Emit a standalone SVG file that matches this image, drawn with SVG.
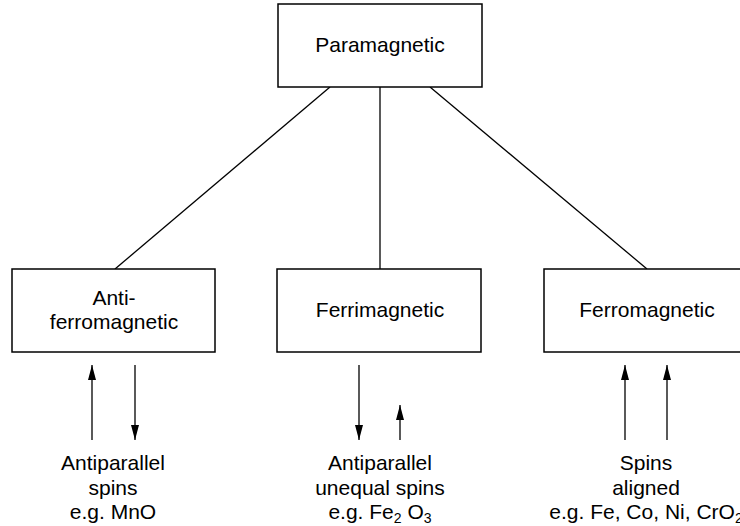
<svg xmlns="http://www.w3.org/2000/svg" width="740" height="526" viewBox="0 0 740 526">
  <defs>
    <marker id="head" viewBox="0 0 15 8" refX="15" refY="4" markerWidth="15" markerHeight="8" markerUnits="userSpaceOnUse" orient="auto">
      <path d="M0,0 L15,4 L0,8 Z" fill="#000"/>
    </marker>
    <style>
      .box { fill: #fff; stroke: #000; stroke-width: 1.5; }
      .link { stroke: #000; stroke-width: 1.3; fill: none; }
      .spin { stroke: #000; stroke-width: 1.3; fill: none; marker-end: url(#head); }
      text { font-family: "Liberation Sans", Arial, sans-serif; font-size: 21px; fill: #000; text-anchor: middle; }
      .sub { font-size: 14px; }
    </style>
  </defs>
  <rect width="740" height="526" fill="#fff"/>

  <!-- tree connectors -->
  <g id="connectors">
    <line class="link" x1="330" y1="87" x2="115" y2="269"/>
    <line class="link" x1="380" y1="87" x2="380" y2="269"/>
    <line class="link" x1="430" y1="87" x2="647" y2="269"/>
  </g>

  <g id="paramagnetic">
    <rect class="box" x="278" y="4" width="204" height="83"/>
    <text x="380" y="52">Paramagnetic</text>
  </g>

  <g id="antiferromagnetic">
    <rect class="box" x="12" y="269" width="203" height="83"/>
    <text x="114" y="305">Anti-</text>
    <text x="114" y="329">ferromagnetic</text>
  </g>

  <g id="ferrimagnetic">
    <rect class="box" x="277" y="269" width="204" height="83"/>
    <text x="380" y="317">Ferrimagnetic</text>
  </g>

  <g id="ferromagnetic">
    <rect class="box" x="544" y="269" width="210" height="83"/>
    <text x="647" y="317">Ferromagnetic</text>
  </g>

  <!-- spin arrows -->
  <g id="spins">
    <line class="spin" x1="92" y1="440" x2="92" y2="365"/>
    <line class="spin" x1="135" y1="365" x2="135" y2="440"/>
    <line class="spin" x1="359" y1="365" x2="359" y2="440"/>
    <line class="spin" x1="400" y1="440" x2="400" y2="405"/>
    <line class="spin" x1="625" y1="440" x2="625" y2="365"/>
    <line class="spin" x1="667" y1="440" x2="667" y2="365"/>
  </g>

  <g id="label-anti">
    <text x="113" y="470">Antiparallel</text>
    <text x="113" y="495">spins</text>
    <text x="113" y="519">e.g. MnO</text>
  </g>

  <g id="label-ferri">
    <text x="380" y="470">Antiparallel</text>
    <text x="380" y="495">unequal spins</text>
    <text x="380" y="519">e.g. Fe<tspan class="sub" dy="4">2</tspan><tspan dy="-4"> O</tspan><tspan class="sub" dy="4">3</tspan></text>
  </g>

  <g id="label-ferro">
    <text x="646" y="470">Spins</text>
    <text x="646" y="495">aligned</text>
    <text x="646" y="519">e.g. Fe, Co, Ni, CrO<tspan class="sub" dy="4">2</tspan></text>
  </g>
</svg>
